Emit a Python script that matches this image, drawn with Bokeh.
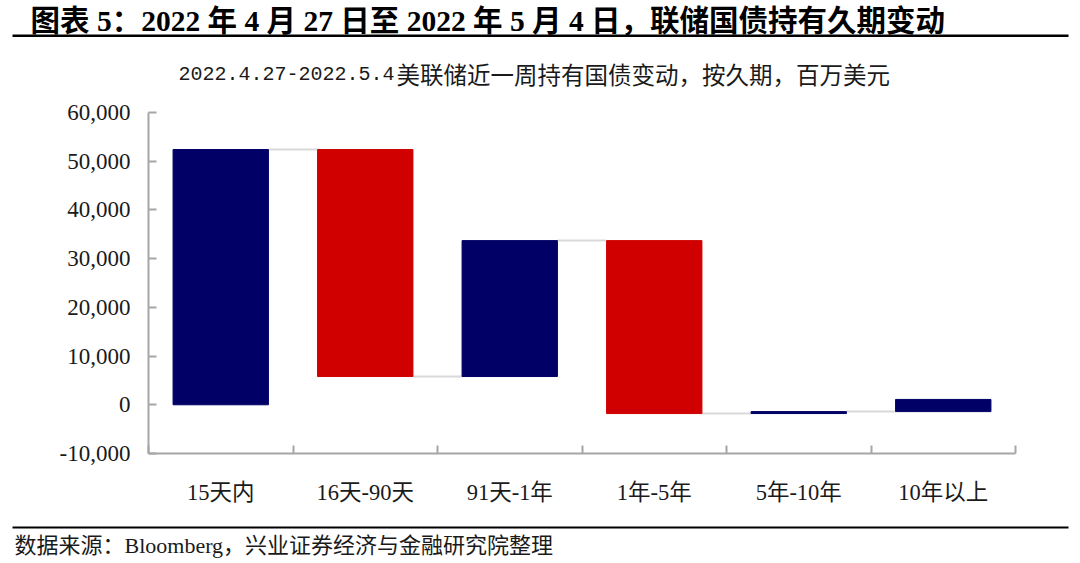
from bokeh.plotting import figure
from bokeh.layouts import column
from bokeh.models import FixedTicker, NumeralTickFormatter, Range1d, ColumnDataSource
from bokeh.core.properties import value
from bokeh.embed import file_html
from bokeh.resources import INLINE

categories = ["15天内", "16天-90天", "91天-1年", "1年-5年", "5年-10年", "10年以上"]
changes = [52400, -46600, 27900, -35500, 400, 2500]
y_ticks = [-10000, 0, 10000, 20000, 30000, 40000, 50000, 60000]

title_text = "图表 5：2022 年 4 月 27 日至 2022 年 5 月 4 日，联储国债持有久期变动"
subtitle_date = "2022.4.27-2022.5.4"
subtitle_text = "美联储近一周持有国债变动，按久期，百万美元"
source_text = "数据来源：Bloomberg，兴业证券经济与金融研究院整理"

NAVY = "#000066"
RED = "#d00000"
SERIF = "'Liberation Serif', 'Times New Roman', 'Noto Sans CJK SC'"
W = 1080
H_HEAD, H_MAIN, H_FOOT = 95, 420, 48


def blank(h):
    f = figure(width=W, height=h, x_range=Range1d(0, W), y_range=Range1d(h, 0),
               output_backend="svg", toolbar_location=None,
               x_axis_location=None, y_axis_location=None, min_border=0)
    f.frame_align = False
    f.xgrid.visible = False
    f.ygrid.visible = False
    f.outline_line_color = None
    return f


# ---- header ----
head = blank(H_HEAD)
head.text(x=[30], y=[20], text=[title_text], text_font=value(SERIF),
          text_font_size="29.5px", text_font_style="bold", text_baseline="middle",
          text_align="left", text_color="black")
head.quad(left=[12], right=[1068], top=[34], bottom=[36.5], fill_color="black", line_color=None)
head.text(x=[178], y=[73], text=[subtitle_date], text_font=value("'Liberation Mono', 'Noto Sans CJK SC'"),
          text_font_size="20px", text_baseline="middle", text_align="left", text_color="#1a1a1a")
head.text(x=[396], y=[73], text=[subtitle_text], text_font=value("'Noto Sans CJK SC'"),
          text_font_size="23.5px", text_baseline="middle", text_align="left", text_color="#1a1a1a")

# ---- waterfall ----
starts, ends = [], []
run = 0
for c in changes:
    starts.append(run)
    run += c
    ends.append(run)
xs = [i + 0.5 for i in range(len(categories))]
half = 0.33
src = ColumnDataSource(dict(
    left=[x - half for x in xs],
    right=[x + half for x in xs],
    bottom=[min(s, e) for s, e in zip(starts, ends)],
    top=[max(s, e) for s, e in zip(starts, ends)],
    color=[NAVY if c >= 0 else RED for c in changes],
))
conn = ColumnDataSource(dict(
    x0=[x + half for x in xs[:-1]],
    x1=[x - half for x in xs[1:]],
    y=ends[:-1],
))

p = figure(width=W, height=H_MAIN, x_range=Range1d(0, len(categories)),
           y_range=Range1d(y_ticks[0], y_ticks[-1]),
           output_backend="svg", toolbar_location=None,
           min_border_left=148, min_border_right=65,
           min_border_top=112 - H_HEAD, min_border_bottom=H_HEAD + H_MAIN - 453)
p.frame_align = False
p.xgrid.visible = False
p.ygrid.visible = False
p.outline_line_color = None

p.segment(x0="x0", x1="x1", y0="y", y1="y", source=conn, line_color="#d9d9d9", line_width=2)
p.quad(left="left", right="right", bottom="bottom", top="top", source=src,
       fill_color="color", line_color="color", line_width=1)

ya = p.yaxis[0]
ya.ticker = FixedTicker(ticks=y_ticks, minor_ticks=[])
ya.formatter = NumeralTickFormatter(format="0,0")
ya.major_tick_in = 8
ya.major_tick_out = 0
ya.minor_tick_in = 0
ya.minor_tick_out = 0
ya.axis_line_color = "#a6a6a6"
ya.major_tick_line_color = "#a6a6a6"
ya.axis_line_width = 2
ya.major_tick_line_width = 2
ya.major_label_text_font = SERIF
ya.major_label_text_font_size = "23px"
ya.major_label_text_color = "#1a1a1a"
ya.major_label_standoff = 18

xa = p.xaxis[0]
xa.ticker = FixedTicker(ticks=xs, minor_ticks=list(range(len(categories) + 1)))
xa.major_label_overrides = {x: c for x, c in zip(xs, categories)}
xa.major_tick_in = 0
xa.major_tick_out = 0
xa.minor_tick_in = 8
xa.minor_tick_out = 0
xa.axis_line_color = "#a6a6a6"
xa.minor_tick_line_color = "#a6a6a6"
xa.axis_line_width = 2
xa.minor_tick_line_width = 2
xa.major_label_text_font = SERIF
xa.major_label_text_font_size = "22.5px"
xa.major_label_text_color = "#1a1a1a"
xa.major_label_standoff = 26

# ---- footer ----
foot = blank(H_FOOT)
foot.quad(left=[12], right=[1068], top=[11], bottom=[13], fill_color="black", line_color=None)
foot.text(x=[14], y=[30], text=[source_text], text_font=value(SERIF),
          text_font_size="22px", text_baseline="middle", text_align="left", text_color="#1a1a1a")

layout = column(head, p, foot, spacing=0)
open("out.html", "w").write(file_html(layout, INLINE))
